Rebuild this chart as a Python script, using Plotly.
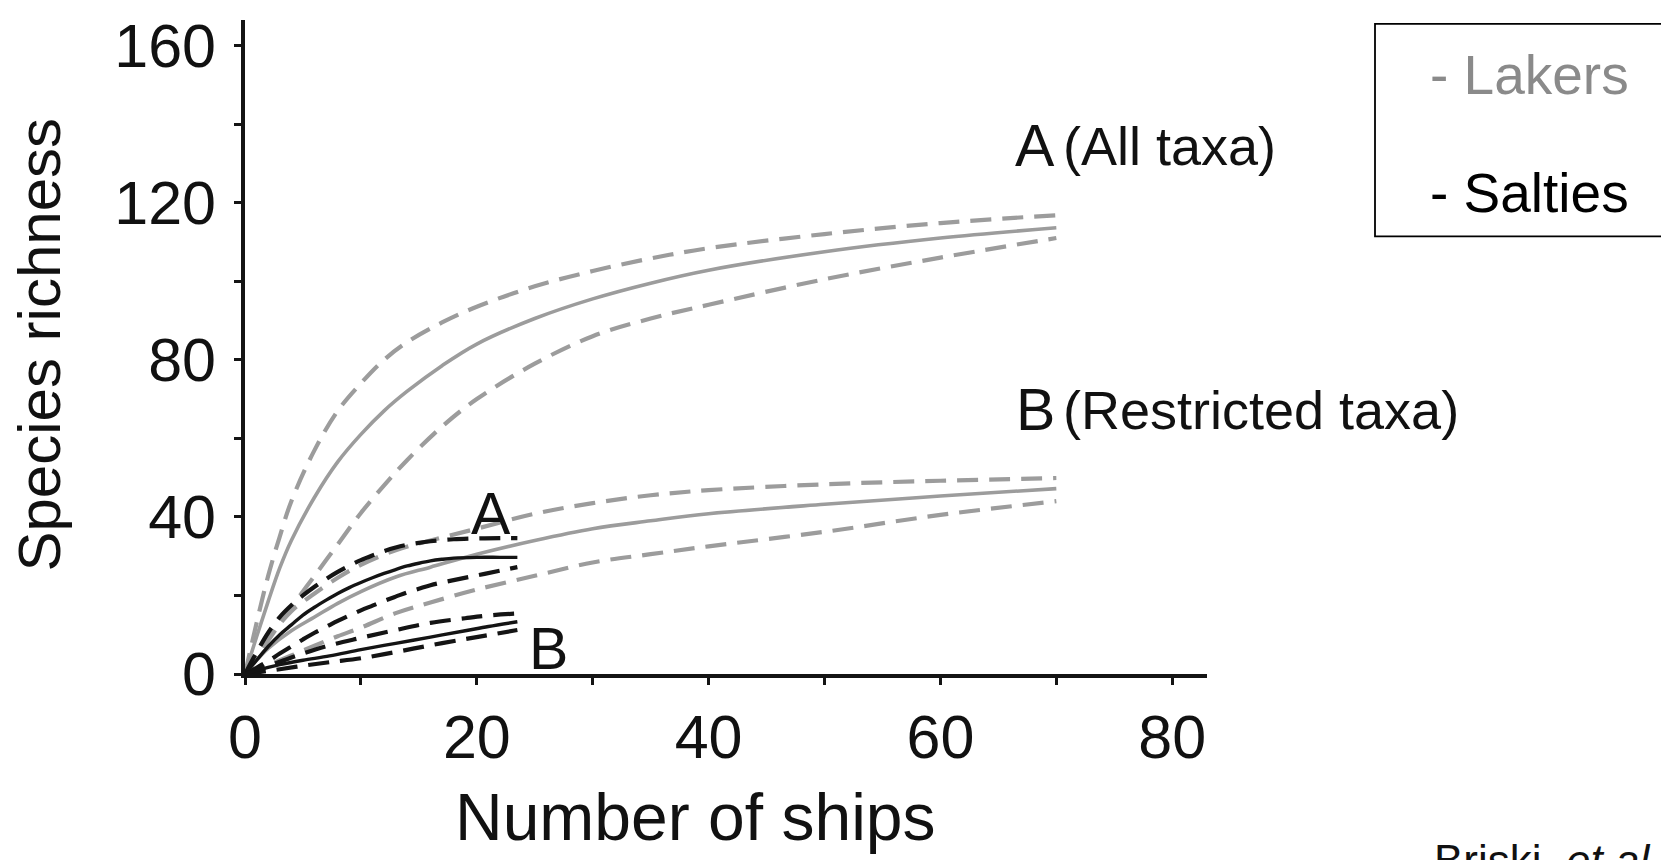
import plotly.graph_objects as go

# ---------------- data ----------------
# Lakers, all taxa (A)
lak_a_x = [0, 1, 2, 3, 4, 6, 8, 10, 12, 14, 17, 20, 25, 30, 35, 40, 50, 60, 70]
lak_a_mid = [0, 9.5, 18.5, 27, 34, 45, 54, 61, 67, 72, 78.5, 84, 90.5, 95.5, 99.5, 102.8, 107.5, 111, 113.6]
lak_a_hi = [0, 13, 25, 35, 44, 57, 67, 74, 80, 84.5, 89.5, 93.5, 98.7, 102.6, 105.8, 108.4, 112, 114.8, 116.8]
lak_a_lo = [0, 4, 8.5, 12.8, 17, 25, 33, 41, 48, 54.5, 63, 70, 79, 86, 90.5, 94, 100.5, 106, 111]

# Lakers, restricted taxa (B)
lak_b_x = [0, 1, 2, 4, 6, 8, 10, 13, 16, 20, 25, 30, 35, 40, 50, 60, 70]
lak_b_mid = [0, 3.5, 6.5, 11, 14.5, 18, 21, 24.7, 27.2, 30.5, 34, 37, 39, 40.8, 43.2, 45.3, 47.2]
lak_b_hi = [0, 5, 9, 16, 20.5, 24.5, 27.8, 31.5, 34, 37, 40.8, 43.5, 45.5, 46.8, 48.3, 49.2, 49.9]
lak_b_lo = [0, 1.2, 2.3, 4.7, 7.2, 9.6, 11.8, 15.5, 18.2, 21.5, 25, 28.4, 30.5, 32.5, 36.2, 40.5, 44]

# Salties, all taxa (A)
sal_a_x = [0, 1, 2, 3, 4, 5, 6, 7, 8, 9, 10, 11, 12, 13, 14, 15, 16, 17, 18, 20, 22, 23.5]
sal_a_mid = [0, 3.5, 7, 10, 12.5, 15, 17, 18.8, 20.5, 22, 23.3, 24.5, 25.6, 26.6, 27.5, 28.2, 28.8, 29.2, 29.5, 29.7, 29.7, 29.7]
sal_a_hi = [0, 5.5, 10.5, 14.5, 17.5, 20, 22.2, 24.2, 26, 27.6, 29, 30.2, 31.3, 32.2, 32.9, 33.4, 33.8, 34.1, 34.3, 34.5, 34.6, 34.6]
sal_a_lo = [0, 1.6, 3.3, 5.2, 7, 8.8, 10.5, 12, 13.5, 14.9, 16.2, 17.4, 18.6, 19.7, 20.8, 21.7, 22.6, 23.3, 23.9, 25.1, 26.3, 27.2]

# Salties, restricted taxa (B)
sal_b_x = [0, 1, 2, 3, 5, 7.3, 10, 13, 16, 19, 21, 23.5]
sal_b_mid = [0, 0.9, 1.7, 2.4, 3.5, 4.6, 6.2, 7.8, 9.4, 11, 12.1, 13.3]
sal_b_hi = [0, 1.1, 2.1, 3.1, 5.2, 7.3, 9.2, 11.2, 13, 14.2, 14.9, 15.4]
sal_b_lo = [0, 0.4, 0.8, 1.2, 2.1, 3.0, 4.0, 5.6, 7.3, 8.9, 9.9, 11.2]

x_tickvals = [0, 10, 20, 30, 40, 50, 60, 70, 80]
x_ticktext = ["0", "", "20", "", "40", "", "60", "", "80"]
y_tickvals = [0, 20, 40, 60, 80, 100, 120, 140, 160]
y_ticktext = ["0", "", "40", "", "80", "", "120", "", "160"]

legend_items = ["- Lakers", "- Salties"]

# ---------------- style ----------------
GRAY = "#9c9c9c"
BLACK = "#141414"
FONT = "Arial, Liberation Sans, Helvetica, sans-serif"
DASH = "21px,11px"

W, H = 1661, 860
PL, PR, PT, PB = 245, 1207, 15, 674  # plot area in pixels


def px(xp):
    return (xp - PL) / (PR - PL)


def py(yp):
    return (PB - yp) / (PB - PT)


fig = go.Figure()


def add(xs, ys, color, dashed, width):
    fig.add_trace(go.Scatter(
        x=xs, y=ys, mode="lines",
        line=dict(color=color, width=width, dash=DASH if dashed else "solid",
                  shape="spline", smoothing=1.0),
        showlegend=False, hoverinfo="skip", cliponaxis=False))


for xs, mid, hi, lo in [(lak_a_x, lak_a_mid, lak_a_hi, lak_a_lo),
                        (lak_b_x, lak_b_mid, lak_b_hi, lak_b_lo)]:
    add(xs, hi, GRAY, True, 4.2)
    add(xs, lo, GRAY, True, 4.2)
    add(xs, mid, GRAY, False, 3.6)

for xs, mid, hi, lo in [(sal_a_x, sal_a_mid, sal_a_hi, sal_a_lo),
                        (sal_b_x, sal_b_mid, sal_b_hi, sal_b_lo)]:
    add(xs, hi, BLACK, True, 4.2)
    add(xs, lo, BLACK, True, 4.2)
    add(xs, mid, BLACK, False, 3.4)

axis_common = dict(
    showgrid=False, zeroline=False, showline=True, linecolor=BLACK, linewidth=3.5,
    ticks="outside", ticklen=7, tickwidth=3, tickcolor=BLACK,
    tickfont=dict(family=FONT, size=61, color="#111111"),
)

fig.update_layout(
    width=W, height=H,
    margin=dict(l=PL, r=W - PR, t=PT, b=H - PB, pad=0),
    paper_bgcolor="white", plot_bgcolor="white",
    xaxis=dict(range=[0, 83.0], tickmode="array", tickvals=x_tickvals, ticktext=x_ticktext,
               ticklabelstandoff=0, **axis_common),
    yaxis=dict(range=[0, 166.5], tickmode="array", tickvals=y_tickvals, ticktext=y_ticktext,
               ticklabelstandoff=6, **axis_common),
    showlegend=False,
)

ann_font = dict(family=FONT, size=54, color="#111111")
big_font = dict(family=FONT, size=59, color="#111111")

annotations = [
    # axis titles
    dict(text="Number of ships", xref="paper", yref="paper", x=px(695), y=py(818),
         xanchor="center", yanchor="middle", showarrow=False,
         font=dict(family=FONT, size=66, color="#111111")),
    dict(text="Species richness", xref="paper", yref="paper", x=px(40), y=py(342),
         xanchor="center", yanchor="middle", showarrow=False, textangle=-90,
         font=dict(family=FONT, size=60, color="#111111")),
    # curve labels
    dict(text="A", xref="x", yref="y", x=68.2, y=134.5, xanchor="center", yanchor="middle",
         showarrow=False, font=big_font),
    dict(text="(All taxa)", xref="x", yref="y", x=70.4, y=134.5, xanchor="left", yanchor="middle",
         showarrow=False, font=ann_font),
    dict(text="B", xref="x", yref="y", x=68.2, y=67.2, xanchor="center", yanchor="middle",
         showarrow=False, font=big_font),
    dict(text="(Restricted taxa)", xref="x", yref="y", x=70.4, y=67.2, xanchor="left", yanchor="middle",
         showarrow=False, font=ann_font),
    dict(text="A", xref="x", yref="y", x=21.2, y=40.8, xanchor="center", yanchor="middle",
         showarrow=False, font=big_font),
    dict(text="B", xref="x", yref="y", x=26.2, y=6.3, xanchor="center", yanchor="middle",
         showarrow=False, font=big_font),
    # legend text
    dict(text=legend_items[0], xref="paper", yref="paper", x=px(1428), y=py(70),
         xanchor="left", yanchor="middle", showarrow=False,
         font=dict(family=FONT, size=55, color="#8a8a8a")),
    dict(text=legend_items[1], xref="paper", yref="paper", x=px(1428), y=py(189),
         xanchor="left", yanchor="middle", showarrow=False,
         font=dict(family=FONT, size=55, color="#000000")),
    # citation, cut at the bottom of the page as in the original
    dict(text="Briski, <i>et al.</i>", xref="paper", yref="paper", x=px(1432), y=py(835),
         xanchor="left", yanchor="top", showarrow=False,
         font=dict(family=FONT, size=44, color="#111111")),
]
fig.update_layout(annotations=annotations)

fig.add_shape(type="rect", xref="paper", yref="paper",
              x0=px(1375), x1=px(1720), y0=py(233), y1=py(19),
              line=dict(color="#000000", width=1.8), fillcolor="rgba(0,0,0,0)", layer="above")

fig.write_html("out.html", config={"displayModeBar": False},
               post_script="document.body.style.margin='0';document.body.style.overflow='hidden';")
